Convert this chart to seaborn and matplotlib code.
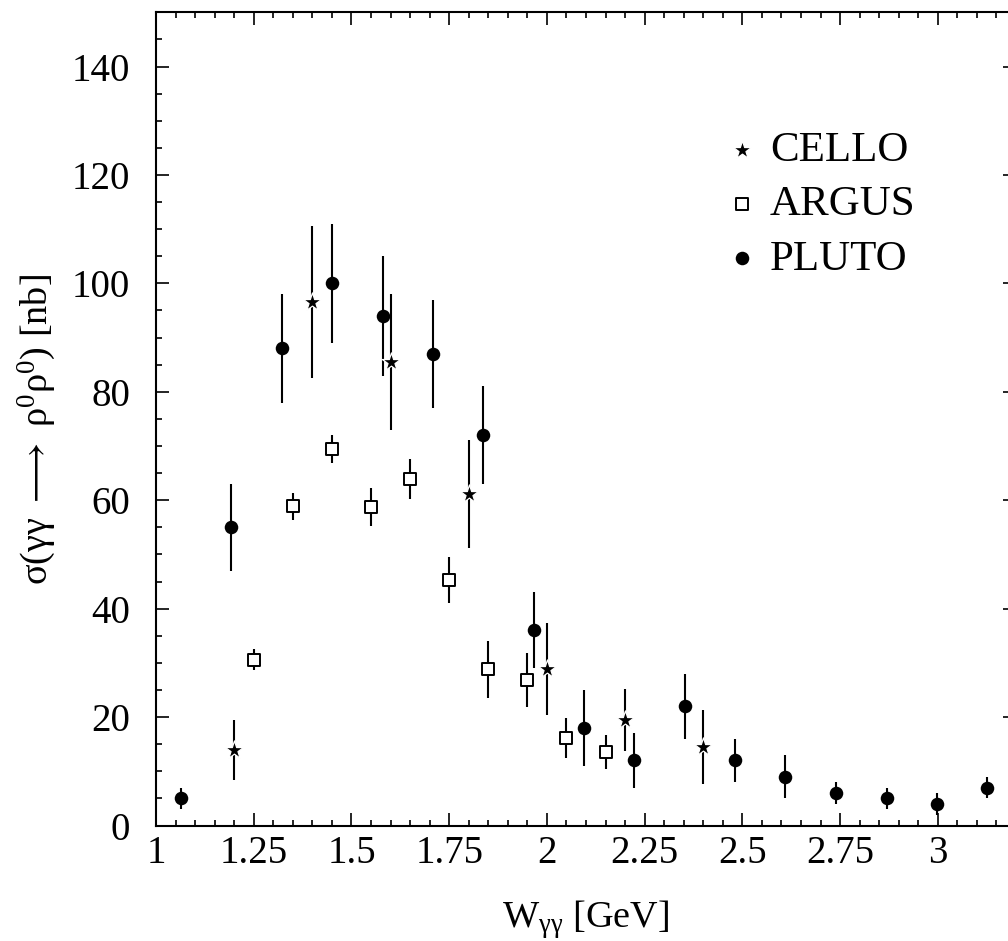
import numpy as np
import pandas as pd
import matplotlib
matplotlib.use("Agg")
import matplotlib.pyplot as plt
import seaborn as sns
from matplotlib.ticker import MultipleLocator, FuncFormatter

# ---- data ----
pluto_w = [1.064, 1.193, 1.323, 1.45, 1.58, 1.709, 1.837, 1.966, 2.096, 2.224,
           2.353, 2.482, 2.61, 2.74, 2.869, 2.997, 3.127]
pluto_sigma = [5.0, 55.0, 88.0, 100.0, 94.0, 87.0, 72.0, 36.0, 18.0, 12.0,
               22.0, 12.0, 9.0, 6.0, 5.0, 4.0, 7.0]
pluto_err = [2, 8, 10, 11, 11, 10, 9, 7, 7, 5, 6, 4, 4, 2, 2, 2, 2]

cello_w = [1.2, 1.4, 1.6, 1.8, 2.0, 2.2, 2.4]
cello_sigma = [13.9, 96.5, 85.5, 61.2, 28.8, 19.4, 14.5]
cello_err = [5.5, 14, 12.5, 10, 8.5, 5.7, 6.8]

argus_w = [1.25, 1.35, 1.45, 1.55, 1.65, 1.75, 1.85, 1.95, 2.05, 2.15]
argus_sigma = [30.6, 58.9, 69.4, 58.7, 63.9, 45.3, 28.8, 26.9, 16.1, 13.6]
argus_err = [2.0, 2.5, 2.6, 3.5, 3.7, 4.2, 5.2, 5.0, 3.7, 3.1]

series_names = ["CELLO", "ARGUS", "PLUTO"]
x_label = "W$_{γγ}$ [GeV]"
y_label = r"σ(γγ $\longrightarrow$ ρ$^0$ρ$^0$) [nb]"

sns.set_theme(style="ticks")
plt.rcParams["font.family"] = ["Liberation Serif", "DejaVu Serif"]
plt.rcParams["mathtext.fontset"] = "custom"
plt.rcParams["mathtext.rm"] = "Liberation Serif"
plt.rcParams["mathtext.it"] = "Liberation Serif"
plt.rcParams["mathtext.default"] = "regular"
plt.rcParams["mathtext.fallback"] = "stix"
for key in ["text.color", "axes.labelcolor", "xtick.color", "ytick.color",
            "axes.edgecolor"]:
    plt.rcParams[key] = "black"

fig = plt.figure(figsize=(10.08, 9.41), dpi=100)
fig.patch.set_facecolor("white")
ax = fig.add_axes([156 / 1008, (941 - 825.5) / 941, 860 / 1008, (825.5 - 12.3) / 941])
ax.set_facecolor("white")

datasets = [
    (cello_w, cello_sigma, cello_err),
    (argus_w, argus_sigma, argus_err),
    (pluto_w, pluto_sigma, pluto_err),
]
styles = [
    dict(marker="*", s=190, color="black", edgecolor="white", linewidth=0.9),
    dict(marker="s", s=80, color="white", edgecolor="black", linewidth=1.4),
    dict(marker="o", s=95, color="black", edgecolor="black", linewidth=0),
]

for (xs, ys, es) in datasets:
    ax.errorbar(xs, ys, yerr=es, fmt="none", ecolor="black", elinewidth=1.5,
                capsize=0, zorder=2)

for name, (xs, ys, es), st in zip(series_names, datasets, styles):
    df = pd.DataFrame({"w": xs, "sigma": ys})
    sns.scatterplot(data=df, x="w", y="sigma", ax=ax, label=name, zorder=3, **st)

ax.set_xlim(1.0, 3.2)
ax.set_ylim(0, 150)

ax.xaxis.set_major_locator(MultipleLocator(0.25))
ax.xaxis.set_minor_locator(MultipleLocator(0.05))
ax.yaxis.set_major_locator(MultipleLocator(20))
ax.yaxis.set_minor_locator(MultipleLocator(5))
ax.xaxis.set_major_formatter(FuncFormatter(lambda v, p: f"{v:g}"))
ax.yaxis.set_major_formatter(FuncFormatter(lambda v, p: f"{v:g}"))

ax.tick_params(which="both", direction="in", top=True, right=True, color="black",
               width=1.2)
ax.tick_params(which="major", length=9.4)
ax.tick_params(which="minor", length=4.3)
ax.tick_params(axis="x", which="major", labelsize=28, pad=7)
ax.tick_params(axis="y", which="major", labelsize=28, pad=18.5)
for sp in ax.spines.values():
    sp.set_visible(True)
    sp.set_color("black")
    sp.set_linewidth(1.5)

ax.set_xlabel(x_label, fontsize=27.5)
ax.set_ylabel(y_label, fontsize=27.5)
ax.xaxis.set_label_coords(0.5, -0.089)
ax.yaxis.set_label_coords(-0.114, 0.4865)

leg = ax.legend(loc="upper left", bbox_to_anchor=(0.6663, 0.854), frameon=False,
                fontsize=31, handlelength=0.6, handletextpad=0.35,
                labelspacing=0.35, borderpad=0, borderaxespad=0)

fig.savefig("out.png", dpi=100, facecolor="white")
